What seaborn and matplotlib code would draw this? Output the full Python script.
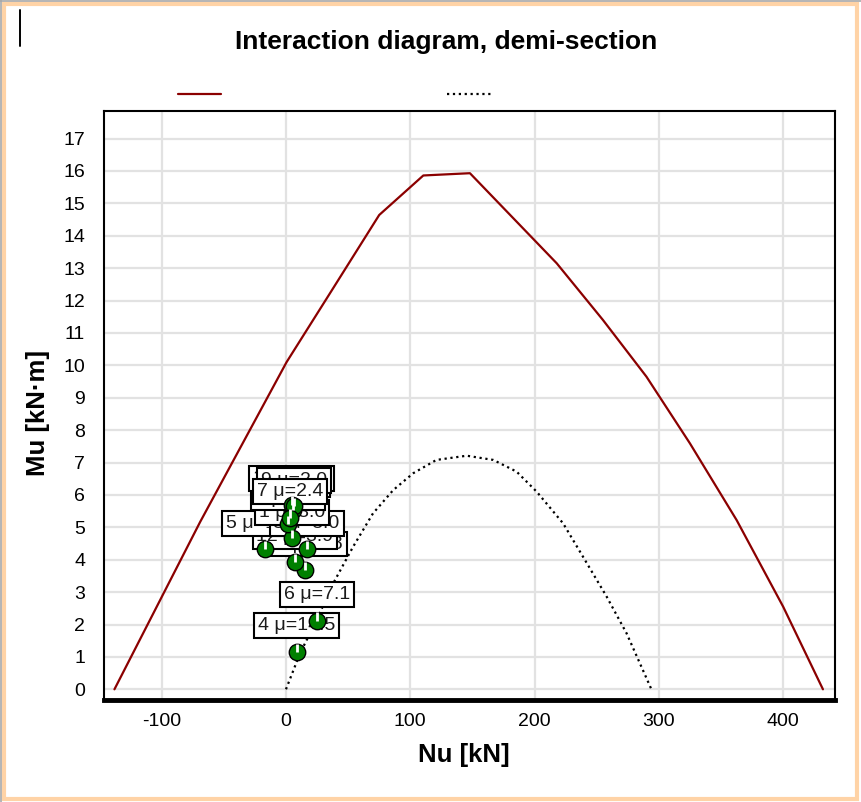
import numpy as np
import pandas as pd
import matplotlib
matplotlib.use("Agg")
import matplotlib.pyplot as plt
import seaborn as sns
from matplotlib.path import Path
from matplotlib.lines import Line2D
from matplotlib.patches import Rectangle
from matplotlib.ticker import MultipleLocator

# ---------------- data ----------------
ultimate_N = [-138, -69, 0.5, 35, 75, 110.5, 148, 217.8, 255, 290, 325, 362.6, 400, 432]
ultimate_M = [0, 5.17, 10.1, 12.2, 14.64, 15.86, 15.93, 13.15, 11.4, 9.65, 7.59, 5.22, 2.55, 0]

service_N = [0, 11.3, 24.7, 38, 54, 70, 86.3, 102.4, 121, 145.4, 166.8, 185.5, 201.7, 223, 239, 258, 274, 294]
service_M = [0, 1.11, 2.14, 3.27, 4.4, 5.43, 6.15, 6.67, 7.08, 7.21, 7.08, 6.72, 6.1, 5.12, 4.09, 2.86, 1.73, 0]

point_N = [8.6, 25.0, 15.3, 7.2, -17.0, 16.6, 4.6, 1.9, 5.9, 4.8, 6.4, 3.0]
point_M = [1.16, 2.12, 3.68, 3.92, 4.32, 4.32, 4.66, 5.10, 5.53, 5.70, 5.65, 5.30]
point_labels = ["4 μ=14.5", "6 μ=7.1", "11 μ=3.8", "12 μ=3.9", "5 μ=10.0", "3 μ=3.0",
                "1 μ=3.0", "2 μ=2.4", "8 μ=2.0", "10 μ=2.0", "9 μ=2.0", "7 μ=2.4"]

x_ticks = [-100, 0, 100, 200, 300, 400]
y_ticks = list(range(0, 18))

title = "Interaction diagram, demi-section"
x_label = "Nu [kN]"
y_label = "Mu [kN·m]"

# ---------------- style ----------------
sns.set_theme(style="white")
plt.rcParams["font.family"] = ["Liberation Sans", "DejaVu Sans"]
plt.rcParams["axes.unicode_minus"] = False

W, H = 861, 802
fig = plt.figure(figsize=(W / 100, H / 100), dpi=100)
fig.patch.set_facecolor("white")

L, R, T, B = 104, 835, 111, 700
ax = fig.add_axes([L / W, 1 - B / H, (R - L) / W, (B - T) / H])
ax.set_facecolor("white")

df_u = pd.DataFrame({"N": ultimate_N, "M": ultimate_M})
df_s = pd.DataFrame({"N": service_N, "M": service_M})
df_p = pd.DataFrame({"N": point_N, "M": point_M, "label": point_labels})

sns.lineplot(data=df_u, x="N", y="M", sort=False, estimator=None,
             color="#8B0000", linewidth=1.6, ax=ax, zorder=2)
sns.lineplot(data=df_s, x="N", y="M", sort=False, estimator=None,
             color="black", linewidth=1.6, linestyle=":", ax=ax, zorder=2)

for n, m, t in zip(df_p["N"], df_p["M"], df_p["label"]):
    ax.annotate(t, (n, m), xytext=(0, 26), textcoords="offset pixels",
                ha="center", va="center", fontsize=14, color="#1a1a1a",
                bbox=dict(boxstyle="square,pad=0.2", fc="white", ec="black", lw=1.5),
                zorder=4)

sns.scatterplot(data=df_p, x="N", y="M", color="#008000", edgecolor="black",
                linewidth=1.0, s=140, ax=ax, zorder=5, legend=False)
tick_marker = Path([(0, 0), (0, 1)])
ax.scatter(df_p["N"], df_p["M"], marker=tick_marker, s=140, facecolors="none",
           edgecolors="white", linewidths=2, zorder=6)

ax.set_xlim(-146.4, 441.7)
ax.set_ylim(-0.33, 17.85)
ax.set_xticks(x_ticks)
ax.set_yticks(y_ticks)
ax.xaxis.set_minor_locator(MultipleLocator(25))
ax.yaxis.set_minor_locator(MultipleLocator(0.25))
ax.grid(True, which="major", color="#e2e2e2", linewidth=1.6)
ax.set_axisbelow(True)

ax.tick_params(which="major", direction="out", length=4.5, width=1.4,
               color="#8a8a8a", labelsize=14, labelcolor="black")
ax.tick_params(axis="y", which="major", pad=9)
ax.tick_params(axis="x", which="major", pad=5)
ax.tick_params(which="minor", direction="out", length=1.5, width=0.8, color="#444444")

for side in ["left", "top", "right"]:
    ax.spines[side].set_color("black")
    ax.spines[side].set_linewidth(1.5)
ax.spines["bottom"].set_color("black")
ax.spines["bottom"].set_linewidth(3.5)

ax.set_xlabel(x_label, fontsize=18.5, fontweight="bold", va="center", color="black")
ax.set_ylabel(y_label, fontsize=18.5, fontweight="bold", va="center", ha="center", color="black")
ax.xaxis.set_label_coords((464 - L) / (R - L), -(755 - B) / (B - T))
ax.yaxis.set_label_coords(-(L - 38) / (R - L), (B - 413) / (B - T))

fig.text(446.5 / W, 1 - 42 / H, title, ha="center", va="center",
         fontsize=19, fontweight="bold", color="black")

# legend with empty labels
lines = ax.get_lines()
fig.legend([lines[0], lines[1]], ["", ""], ncol=2, loc="center left",
           bbox_to_anchor=(178 / W, 1 - 95 / H), frameon=False, fontsize=10,
           handlelength=3.1, handletextpad=0, columnspacing=16.3,
           borderpad=0, borderaxespad=0)

# decorations: frame and cursor bar
fig.add_artist(Rectangle((4 / W, 3 / H), 1 - 8 / W, 1 - 6.5 / H, transform=fig.transFigure,
                         fill=False, ec="#FFD3A6", lw=3.0))
fig.add_artist(Line2D([0.6 / W, 0.6 / W], [0, 1], transform=fig.transFigure,
                      color="#a8a8a8", lw=1.2))
fig.add_artist(Line2D([0, 1], [1 - 0.6 / H, 1 - 0.6 / H], transform=fig.transFigure,
                      color="#a8a8a8", lw=1.2))
fig.add_artist(Line2D([20 / W, 20 / W], [1 - 10 / H, 1 - 46 / H], transform=fig.transFigure,
                      color="black", lw=1.4))

fig.savefig("out.png", dpi=100)
